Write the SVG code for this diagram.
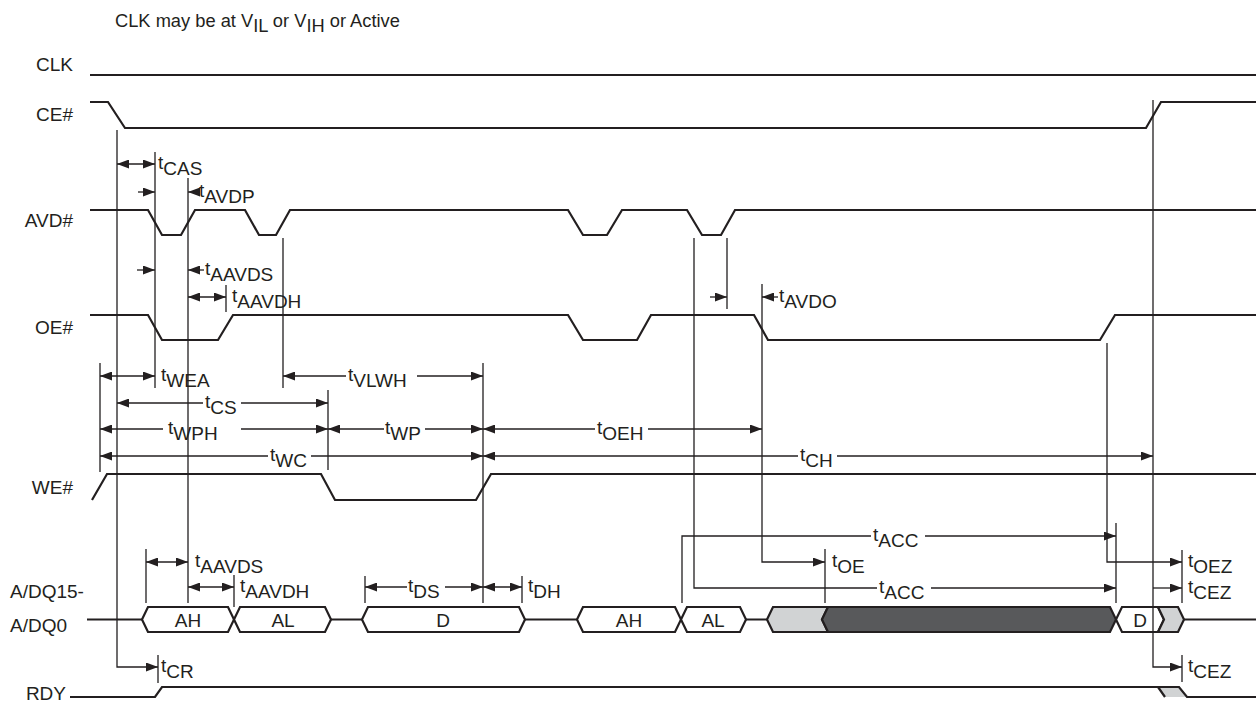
<svg xmlns="http://www.w3.org/2000/svg" width="1256" height="705" viewBox="0 0 1256 705">
<style>
text{font-family:"Liberation Sans",Arial,Helvetica,sans-serif;font-size:19px;fill:#231f20}
.note{font-size:18.3px}
.sig{fill:none;stroke:#231f20;stroke-width:2.2;stroke-linejoin:miter}
.box{fill:#fff;stroke:#231f20;stroke-width:2.2}
.lg{fill:#d1d3d4;stroke:#231f20;stroke-width:2.2}
.dk{fill:#58595b;stroke:#231f20;stroke-width:2.2}
.dim{fill:none;stroke:#231f20;stroke-width:1.3}
.a2{marker-start:url(#ah);marker-end:url(#ah)}
.a1{marker-end:url(#ah)}
.c{text-anchor:middle}
.r{text-anchor:end}
</style>
<defs>
<marker id="ah" viewBox="0 0 12 9" refX="12" refY="4.5" markerWidth="12" markerHeight="9" markerUnits="userSpaceOnUse" orient="auto-start-reverse"><path d="M0,0L12,4.5L0,9z" fill="#231f20"/></marker>
</defs>
<rect width="1256" height="705" fill="#fff"/>
<text class="note" x="115" y="27">CLK may be at V<tspan dy="5">IL</tspan><tspan dy="-5"> or V</tspan><tspan dy="5">IH</tspan><tspan dy="-5"> or Active</tspan></text>

<g id="clk"><text class="r" x="73" y="71">CLK</text><path class="sig" d="M90,75H1256"/></g>
<g id="ce"><text class="r" x="73" y="121">CE#</text><path class="sig" d="M90,102H108L125,128H1146L1161,102H1256"/></g>
<g id="avd"><text class="r" x="73" y="227">AVD#</text><path class="sig" d="M90,210H148L162,235H181L195,210H245L259,235H276L290,210H568L583,235H607L622,210H687L702,235H721L735,210H1256"/></g>
<g id="oe"><text class="r" x="73" y="334">OE#</text><path class="sig" d="M90,315H148L162,340H218L233,315H568L583,340H637L651,315H754L768,340H1100L1115,315H1256"/></g>
<g id="we"><text class="r" x="73" y="494">WE#</text><path class="sig" d="M92,500L107,474H321L335,500H476L491,474H1256"/></g>
<g id="adq">
<text x="10" y="598">A/DQ15-</text><text x="10" y="632">A/DQ0</text>
<path class="sig" d="M87,619.5H142M331,619.5H362M525,619.5H577M746,619.5H767M1184,619.5H1256"/>
<polygon class="box" points="142,619.5 148,607 228,607 234,619.5 228,632 148,632"/>
<polygon class="box" points="234,619.5 240,607 325,607 331,619.5 325,632 240,632"/>
<polygon class="box" points="362,619.5 368,607 519,607 525,619.5 519,632 368,632"/>
<polygon class="box" points="577,619.5 583,607 675,607 681,619.5 675,632 583,632"/>
<polygon class="box" points="681,619.5 687,607 740,607 746,619.5 740,632 687,632"/>
<polygon class="lg" points="767,619.5 773,607 828,607 822,619.5 828,632 773,632"/>
<polygon class="dk" points="828,607 1110,607 1116,619.5 1110,632 828,632 822,619.5"/>
<polygon class="box" points="1116,619.5 1122,607 1158,607 1164,619.5 1158,632 1122,632"/>
<polygon class="lg" points="1158,607 1178,607 1184,619.5 1178,632 1158,632 1164,619.5"/>
<text class="c" x="188" y="627">AH</text><text class="c" x="283" y="627">AL</text><text class="c" x="443" y="627">D</text>
<text class="c" x="629" y="627">AH</text><text class="c" x="713" y="627">AL</text><text class="c" x="1140" y="627">D</text>
</g>
<g id="rdy"><text class="r" x="66" y="700">RDY</text>
<polygon points="1158,687 1179,687 1187,697 1165,697" fill="#d1d3d4"/>
<path class="sig" d="M70,697H155L162,687H1179L1187,697H1256M1158,687L1165,697"/></g>

<g id="connectors">
<path class="dim" d="M117,130V667H158" marker-end="url(#ah)"/>
<path class="dim" d="M155,152V388M188,178V603M226,285V312M283,238V388M328,390V470M100,363V472M483,363V603M146,549V603M234,575V607M365,576V603M522,576V603M158,655V683M727,238V309M825,549V603M1116,523V603M1182,550V603M1182,655V682"/>
<path class="dim" d="M682,603V536H871"/><path class="dim a1" d="M925,536H1116"/>
<path class="dim" d="M694,238V588H877"/><path class="dim a1" d="M931,588H1116"/>
<path class="dim a1" d="M762,284V562H825"/>
<path class="dim a1" d="M1107,343V562H1182"/>
<path class="dim a1" d="M1153,100V667H1182"/>
<path class="dim a1" d="M1153,588H1182"/>
<path class="dim a2" d="M117,164H155"/>
<path class="dim a1" d="M138,192H155"/><path class="dim a1" d="M200,192H188"/>
<path class="dim a1" d="M137,270H155"/><path class="dim a1" d="M204,270H188"/>
<path class="dim a2" d="M188,297H226"/>
<path class="dim a1" d="M710,297H727"/><path class="dim a1" d="M778,297H762"/>
<path class="dim a2" d="M100,376H155"/>
<path class="dim a1" d="M346,376H283"/><path class="dim a1" d="M417,376H483"/>
<path class="dim a1" d="M203,403H117"/><path class="dim a1" d="M241,403H328"/>
<path class="dim a1" d="M163,429H100"/><path class="dim a1" d="M241,429H328"/>
<path class="dim a1" d="M384,429H328"/><path class="dim a1" d="M425,429H483"/>
<path class="dim a1" d="M595,429H483"/><path class="dim a1" d="M648,429H762"/>
<path class="dim a1" d="M268,456H100"/><path class="dim a1" d="M311,456H483"/>
<path class="dim a1" d="M798,456H483"/><path class="dim a1" d="M837,456H1153"/>
<path class="dim a2" d="M146,562H188"/>
<path class="dim a2" d="M188,587H234"/>
<path class="dim a1" d="M407,587H365"/><path class="dim a1" d="M445,587H483"/>
<path class="dim a2" d="M483,587H522"/>
</g>

<g id="timing-labels">
<text x="158" y="169">t<tspan dy="6">CAS</tspan></text>
<text x="199" y="197">t<tspan dy="6">AVDP</tspan></text>
<text x="205" y="275">t<tspan dy="6">AAVDS</tspan></text>
<text x="232" y="302">t<tspan dy="6">AAVDH</tspan></text>
<text x="779" y="302">t<tspan dy="6">AVDO</tspan></text>
<text x="161" y="381">t<tspan dy="6">WEA</tspan></text>
<text x="348" y="381">t<tspan dy="6">VLWH</tspan></text>
<text x="205" y="408">t<tspan dy="6">CS</tspan></text>
<text x="168" y="434">t<tspan dy="6">WPH</tspan></text>
<text x="385" y="434">t<tspan dy="6">WP</tspan></text>
<text x="597" y="434">t<tspan dy="6">OEH</tspan></text>
<text x="270" y="461">t<tspan dy="6">WC</tspan></text>
<text x="800" y="461">t<tspan dy="6">CH</tspan></text>
<text x="873" y="541">t<tspan dy="6">ACC</tspan></text>
<text x="832" y="567">t<tspan dy="6">OE</tspan></text>
<text x="879" y="593">t<tspan dy="6">ACC</tspan></text>
<text x="1188" y="567">t<tspan dy="6">OEZ</tspan></text>
<text x="1188" y="593">t<tspan dy="6">CEZ</tspan></text>
<text x="1188" y="672">t<tspan dy="6">CEZ</tspan></text>
<text x="161" y="672">t<tspan dy="6">CR</tspan></text>
<text x="195" y="567">t<tspan dy="6">AAVDS</tspan></text>
<text x="240" y="592">t<tspan dy="6">AAVDH</tspan></text>
<text x="408" y="592">t<tspan dy="6">DS</tspan></text>
<text x="528" y="592">t<tspan dy="6">DH</tspan></text>
</g>
</svg>
